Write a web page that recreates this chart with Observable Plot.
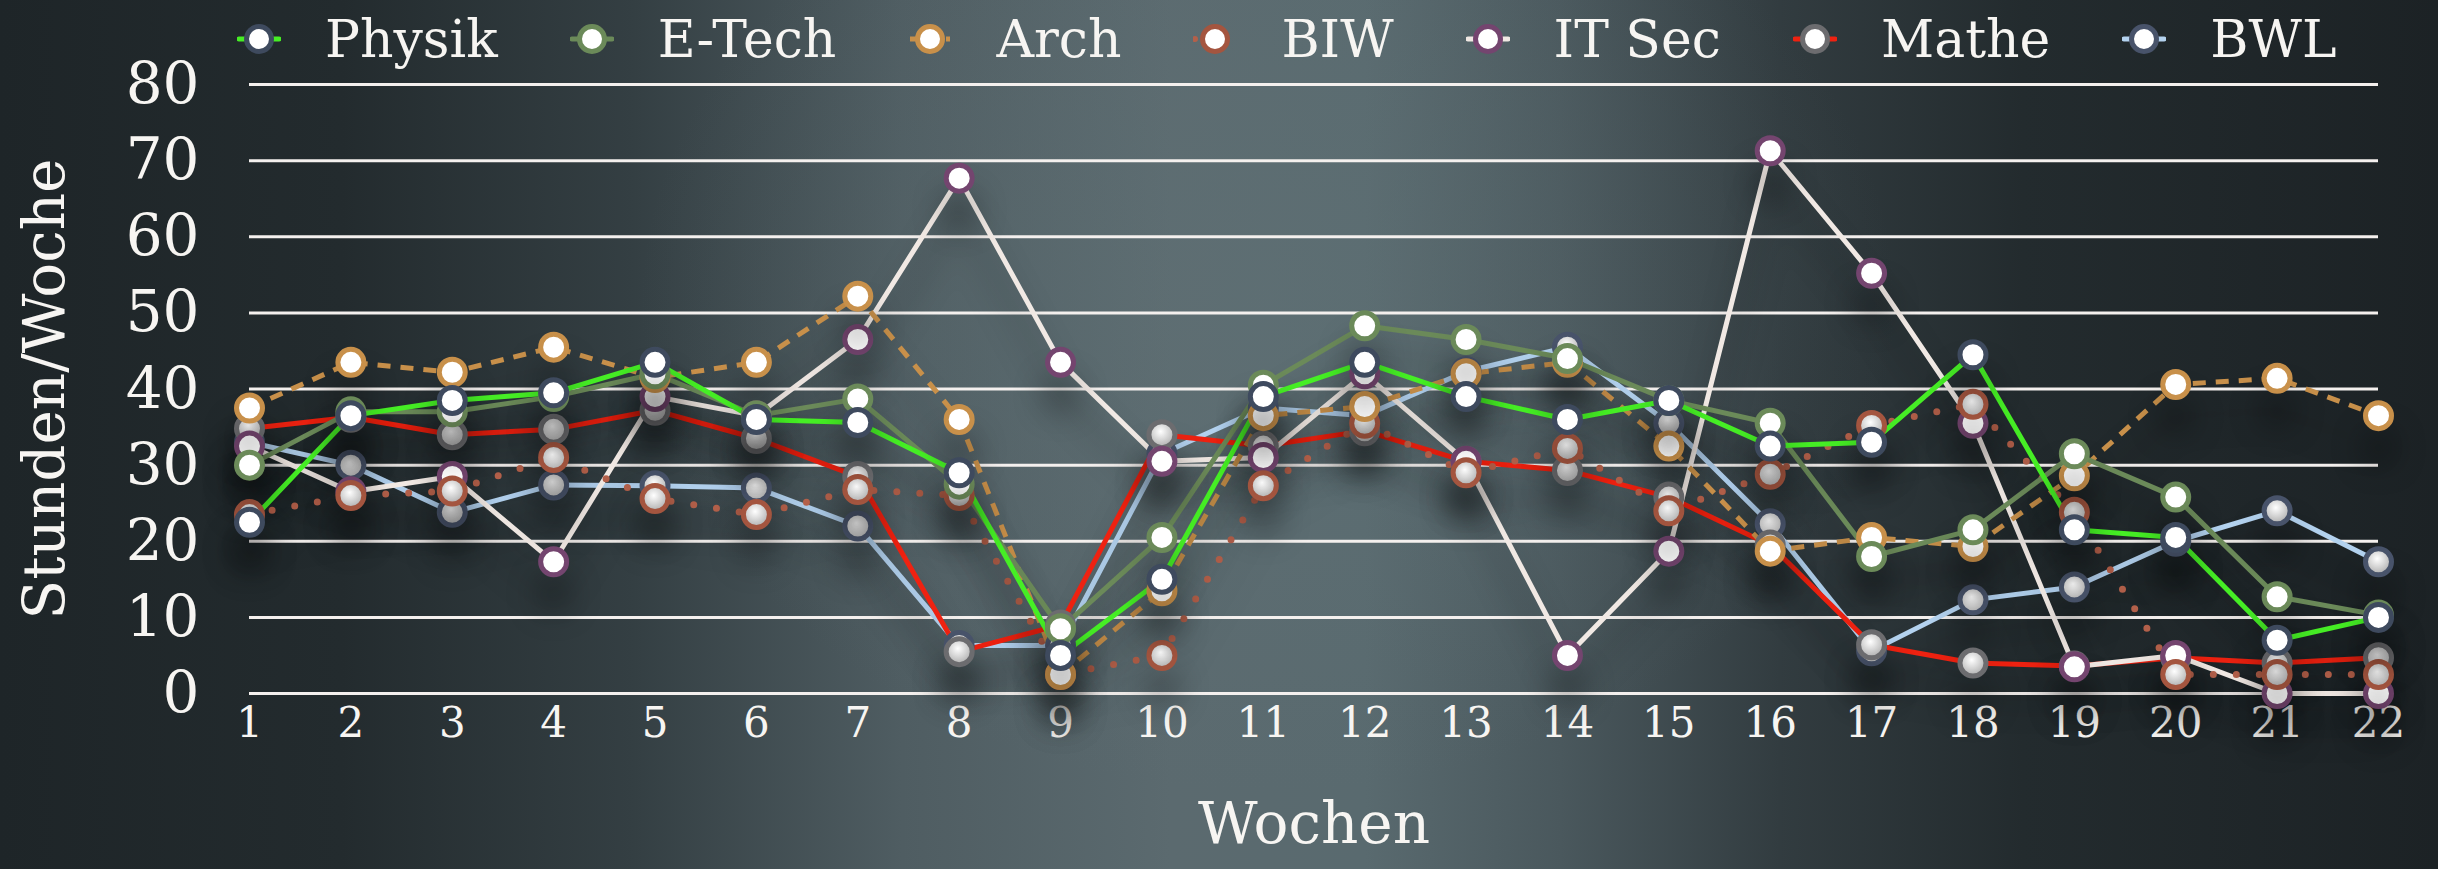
<!DOCTYPE html>
<html>
<head>
<meta charset="utf-8">
<script src="https://cdn.jsdelivr.net/npm/d3@7"></script>
<script src="https://cdn.jsdelivr.net/npm/@observablehq/plot@0.6"></script>
<style>
  html, body { margin: 0; padding: 0; }
  body {
    width: 2438px; height: 869px; overflow: hidden; position: relative;
    font-family: "DejaVu Serif", serif; color: #f7f5f2;
    background:
      radial-gradient(ellipse 900px 700px at 52% 35%, rgba(100,118,122,0.35), rgba(0,0,0,0) 70%),
      linear-gradient(90deg, #1e2528 0%, #232b2e 14%, #343f43 26%, #4f5d62 37%, #5b6a6f 48%, #596a6f 56%, #4a585d 64%, #323c40 73%, #232b2e 83%, #1c2225 100%);
  }
  #legend { position: absolute; top: 13px; left: 237px; display: flex; align-items: center; height: 52px; }
  .item { display: flex; align-items: center; margin-right: 72px; }
  .item svg { display: block; }
  .item span { margin-left: 44px; font-size: 52px; line-height: 52px; white-space: nowrap; }
  #chart { position: absolute; top: 70px; left: 0; }
  #chart svg g[aria-label="line"], #chart svg g[aria-label="dot"] {
    filter: drop-shadow(0px 32px 16px rgba(0,0,0,0.38));
  }
</style>
</head>
<body>
<svg width="0" height="0" style="position:absolute">
  <defs>
    <radialGradient id="shade" cx="0.45" cy="0.38" r="0.65">
      <stop offset="0" stop-color="#ffffff"/>
      <stop offset="1" stop-color="#a9a9a9"/>
    </radialGradient>
  </defs>
</svg>
<div id="legend"></div>
<div id="chart"></div>
<script>
// ---- data ----
const weeks = [1,2,3,4,5,6,7,8,9,10,11,12,13,14,15,16,17,18,19,20,21,22];
const yTicks = [0,10,20,30,40,50,60,70,80];
const seriesNames = ["Physik","E-Tech","Arch","BIW","IT Sec","Mathe","BWL"];

const physik = [22.5,36.5,38.5,39.5,43.5,36,35.6,29,5,15,39,43.5,39,36,38.5,32.5,33,44.5,21.5,20.5,7,10];
const etech  = [30,37,37,39,42,36.5,38.7,27.5,8.5,20.5,40.5,48.3,46.5,44,38.5,35.5,18,21.5,31.5,25.8,12.7,10.3];
const arch   = [37.5,43.5,42.2,45.5,41.5,43.5,52.2,36,2.5,13.5,36.5,37.7,42,43.5,32.5,18.7,20.5,19.3,28.6,40.6,41.4,36.5];
const biw    = [23.5,26,26.6,31,25.6,23.5,26.8,26,2.5,5,27.3,35.5,29,32.2,24,28.8,35.2,38,23.8,2.5,2.5,2.5];
const itsec  = [32.5,26.5,28.5,17.3,39,36.5,46.5,67.7,43.5,30.5,31,42,30.5,5,18.7,71.3,55.2,35.5,3.5,5,0,0];
const mathe  = [34.8,36.3,34,34.7,37.2,33.5,28.5,5.5,9,34,32.5,34.5,30.5,29.3,25.8,19.5,6.4,4,3.6,4.7,4,4.7];
const bwl    = [33,30,23.8,27.4,27.3,27,22,6.3,6.3,31.5,37.5,36.5,42.3,45.5,35.5,22.3,5.6,12.3,14,20,24,17.3];

// ---- styles ----
const styles = {
  "Physik": {values: physik, line: "#46ee25", ring: "#3e4a5e", fill: "white", dash: null, cap: "round"},
  "E-Tech": {values: etech,  line: "#6b8a59", ring: "#6b8a59", fill: "white", dash: null, cap: "round"},
  "Arch":   {values: arch,   line: "#c8904a", ring: "#c8904a", fill: "white", dash: "13,10", cap: "butt"},
  "BIW":    {values: biw,    line: "#b3604a", ring: "#a4553f", fill: "url(#shade)", dash: "0,23", cap: "round"},
  "IT Sec": {values: itsec,  line: "#f1e9e4", ring: "#74456f", fill: "white", dash: null, cap: "round"},
  "Mathe":  {values: mathe,  line: "#ee2211", ring: "#6c6c6f", fill: "url(#shade)", dash: null, cap: "round"},
  "BWL":    {values: bwl,    line: "#b3d2ef", ring: "#48536a", fill: "url(#shade)", dash: null, cap: "round"}
};
// drawing order (first = bottom)
const drawOrder = ["BWL","Mathe","IT Sec","BIW","Arch","E-Tech","Physik"];

const rowsFor = name => weeks.map((w, i) => ({week: w, value: styles[name].values[i], name}));

// ---- legend ----
const legend = document.getElementById("legend");
for (const name of seriesNames) {
  const s = styles[name];
  const item = document.createElement("div");
  item.className = "item";
  const lw = s.dash === "0,23" ? 6 : 5;
  item.innerHTML =
    `<svg width="44" height="52" viewBox="0 0 44 52">
       <line x1="2" y1="26" x2="42" y2="26" stroke="${s.line}" stroke-width="${lw}" ${s.dash ? `stroke-dasharray="${s.dash === "0,23" ? "0,10" : "8,4"}"` : ""} stroke-linecap="${s.cap}"/>
       <circle cx="22" cy="26" r="12.5" fill="white" stroke="${s.ring}" stroke-width="5"/>
     </svg><span>${name}</span>`;
  legend.appendChild(item);
}

// ---- chart ----
const marks = [
  Plot.gridY(yTicks, {stroke: "#f4f0ee", strokeOpacity: 1, strokeWidth: 3}),
  Plot.axisY(yTicks, {tickSize: 0, tickPadding: 50, fontSize: 58, label: null}),
  Plot.axisX(weeks, {tickSize: 0, tickPadding: 14, fontSize: 42, label: null, tickFormat: d => String(d)})
];
for (const name of drawOrder) {
  const s = styles[name];
  marks.push(Plot.lineY(rowsFor(name), {
    x: "week", y: "value", stroke: s.line,
    strokeWidth: s.dash === "0,23" ? 7 : 5,
    strokeDasharray: s.dash || undefined, strokeLinecap: s.cap, strokeLinejoin: "round"
  }));
}
for (const name of drawOrder) {
  const s = styles[name];
  marks.push(Plot.dot(rowsFor(name), {
    x: "week", y: "value", r: 13, fill: s.fill, stroke: s.ring, strokeWidth: 5
  }));
}
marks.push(Plot.text(["Stunden/Woche"], {frameAnchor: "left", rotate: -90, dx: -204, textAnchor: "middle", fontSize: 58, fill: "#f7f5f2", text: d => d}));
marks.push(Plot.text(["Wochen"], {frameAnchor: "bottom", dy: 149, fontSize: 58, fill: "#f7f5f2", text: d => d}));

const chart = Plot.plot({
  width: 2438,
  height: 799,
  marginTop: 14,
  marginBottom: 176,
  marginLeft: 249,
  marginRight: 60,
  x: {domain: [1, 22], label: null},
  y: {domain: [0, 80], label: null},
  style: {background: "transparent", color: "#f7f5f2", fontFamily: "'DejaVu Serif', serif", overflow: "visible"},
  marks
});
document.getElementById("chart").appendChild(chart);
</script>
</body>
</html>
